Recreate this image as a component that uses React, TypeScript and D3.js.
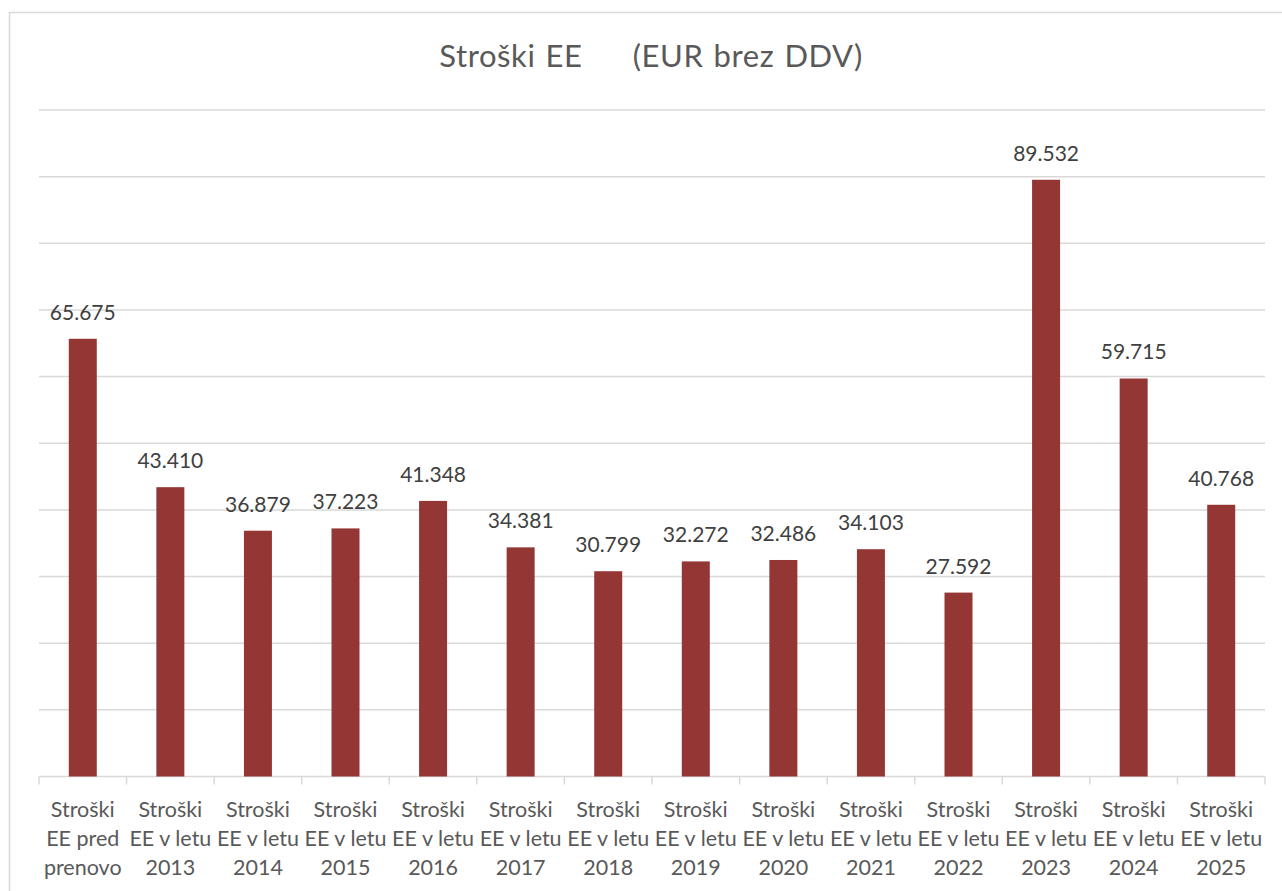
import React, { useEffect, useRef } from 'react';
import * as d3 from 'd3';

const categories: string[][] = [
  ['Stroški', 'EE pred', 'prenovo'],
  ['Stroški', 'EE v letu', '2013'],
  ['Stroški', 'EE v letu', '2014'],
  ['Stroški', 'EE v letu', '2015'],
  ['Stroški', 'EE v letu', '2016'],
  ['Stroški', 'EE v letu', '2017'],
  ['Stroški', 'EE v letu', '2018'],
  ['Stroški', 'EE v letu', '2019'],
  ['Stroški', 'EE v letu', '2020'],
  ['Stroški', 'EE v letu', '2021'],
  ['Stroški', 'EE v letu', '2022'],
  ['Stroški', 'EE v letu', '2023'],
  ['Stroški', 'EE v letu', '2024'],
  ['Stroški', 'EE v letu', '2025'],
];

const values: number[] = [
  65675, 43410, 36879, 37223, 41348, 34381, 30799,
  32272, 32486, 34103, 27592, 89532, 59715, 40768,
];

const gridTicks: number[] = [0, 10000, 20000, 30000, 40000, 50000, 60000, 70000, 80000, 90000, 100000];

const title = 'Stroški EE     (EUR brez DDV)';

const App = () => {
  const svgRef = useRef<SVGSVGElement>(null);

  useEffect(() => {
    const width = 1282;
    const height = 891;
    const left = 39;
    const right = 1265;
    const top = 110;
    const bottom = 776.5;
    const font = 'Lato, "Open Sans", sans-serif';

    const svg = d3.select(svgRef.current);
    svg.selectAll('*').remove();
    svg.attr('width', width).attr('height', height);

    svg.append('rect')
      .attr('x', 0).attr('y', 0).attr('width', width).attr('height', height)
      .attr('fill', '#ffffff');

    // outer chart border (right/bottom run off the page)
    svg.append('rect')
      .attr('x', 9.5).attr('y', 12.5).attr('width', 1290).attr('height', 900)
      .attr('fill', 'none').attr('stroke', '#d9d9d9').attr('stroke-width', 1.5);

    const keys = categories.map((_, i) => String(i));
    const x = d3.scaleBand().domain(keys).range([left, right]).paddingInner(0).paddingOuter(0);
    const y = d3.scaleLinear().domain([0, 100000]).range([bottom, top]);

    // gridlines
    svg.append('g')
      .selectAll('line')
      .data(gridTicks.slice(1))
      .join('line')
      .attr('x1', left).attr('x2', right)
      .attr('y1', d => y(d)).attr('y2', d => y(d))
      .attr('stroke', '#d9d9d9').attr('stroke-width', 1.5);

    // baseline axis with ticks
    const axis = svg.append('g');
    axis.append('line')
      .attr('x1', left).attr('x2', right)
      .attr('y1', y(0)).attr('y2', y(0))
      .attr('stroke', '#d9d9d9').attr('stroke-width', 1.5);
    const edges = keys.map(k => x(k) as number).concat([right]);
    axis.selectAll('line.tick')
      .data(edges)
      .join('line')
      .attr('class', 'tick')
      .attr('x1', d => d).attr('x2', d => d)
      .attr('y1', y(0)).attr('y2', y(0) + 8)
      .attr('stroke', '#d9d9d9').attr('stroke-width', 1.5);

    const barW = 28;
    // bars
    svg.append('g')
      .selectAll('rect')
      .data(values)
      .join('rect')
      .attr('x', (_, i) => (x(keys[i]) as number) + x.bandwidth() / 2 - barW / 2)
      .attr('y', d => y(d))
      .attr('width', barW)
      .attr('height', d => y(0) - y(d))
      .attr('fill', '#943634');

    // value labels
    const fmt = (v: number) => d3.format(',')(v).replace(/,/g, '.');
    svg.append('g')
      .selectAll('text')
      .data(values)
      .join('text')
      .attr('x', (_, i) => (x(keys[i]) as number) + x.bandwidth() / 2)
      .attr('y', d => y(d) - 19)
      .attr('text-anchor', 'middle')
      .attr('font-family', font)
      .attr('font-size', 21)
      .attr('fill', '#404040')
      .text(d => fmt(d));

    // category labels
    const labels = svg.append('g');
    categories.forEach((lines, i) => {
      const t = labels.append('text')
        .attr('x', (x(keys[i]) as number) + x.bandwidth() / 2)
        .attr('text-anchor', 'middle')
        .attr('font-family', font)
        .attr('font-size', 21.5)
        .attr('fill', '#595959');
      lines.forEach((line, j) => {
        t.append('tspan')
          .attr('x', (x(keys[i]) as number) + x.bandwidth() / 2)
          .attr('y', 817 + j * 29)
          .text(line);
      });
    });

    // title
    svg.append('text')
      .attr('x', 651)
      .attr('y', 67)
      .attr('text-anchor', 'middle')
      .attr('font-family', font)
      .attr('font-size', 31)
      .attr('word-spacing', 1.5)
      .attr('letter-spacing', 0.6)
      .attr('fill', '#595959')
      .style('white-space', 'pre')
      .text(title);
  }, []);

  return (
    <div style={{ position: 'absolute', left: 0, top: 0 }}>
      <svg ref={svgRef} style={{ display: 'block' }}></svg>
    </div>
  );
};

export default App;
